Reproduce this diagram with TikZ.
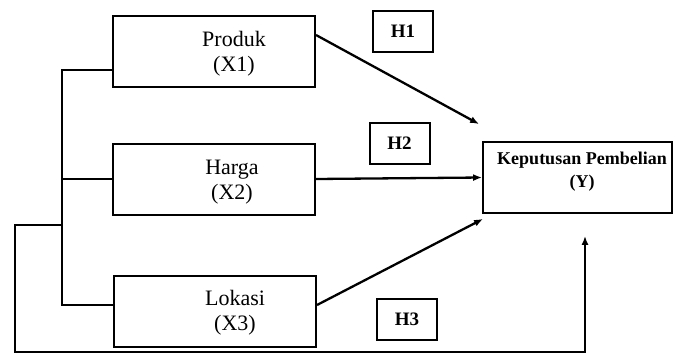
\documentclass[tikz,border=0pt]{standalone}
\usepackage{fontspec}
\setmainfont{Liberation Serif}
\usetikzlibrary{arrows.meta}

\tikzset{
  ln/.style={line width=2.3pt},
  arr/.style={ln,-{Latex[length=9pt,width=7pt]}},
  varbox/.style={draw,line width=2pt,minimum width=202pt,minimum height=71pt,inner sep=0pt},
  vartxt/.style={align=center,font=\fontsize{22}{25}\selectfont},
  hbox/.style={draw,line width=2pt,minimum width=60pt,minimum height=41pt,font=\fontsize{19}{22}\selectfont\bfseries}
}

\begin{document}
\begin{tikzpicture}[x=1pt,y=-1pt]
\useasboundingbox (0,0) rectangle (675,356);

% variabel bebas
\node[varbox] (x1) at (214,51) {};
\node[vartxt] (x1t) at (234,54) {Produk\\(X1)};
\node[varbox] (x2) at (214,179) {};
\node[vartxt] (x2t) at (232,182) {Harga\\(X2)};
\node[varbox] (x3) at (215,311.5) {};
\node[vartxt] (x3t) at (235,313) {Lokasi\\(X3)};

% variabel terikat
\node[draw,line width=1.8pt,minimum width=189pt,minimum height=71pt] (y) at (577.5,177.5) {};
\node[align=center,font=\fontsize{18}{23}\selectfont\bfseries] (yt) at (582,172) {Keputusan Pembelian\\(Y)};

% hipotesis
\node[hbox] (h1) at (403,31.5) {H1};
\node[hbox] (h2) at (399.5,143.5) {H2};
\node[hbox] (h3) at (407,319) {H3};

% garis kiri
\coordinate (kb) at (62,305);
\coordinate (fb) at (62,225);
\coordinate (fl) at (15,352);
\draw[ln] ([yshift=-19pt]x1.west) -| (kb) -- ([yshift=6.5pt]x3.west);
\draw[ln] (x2.west) -- (x2.west -| kb);

% panah
\draw[arr] ([yshift=16pt]x1.east) -- ([shift={(-3pt,17pt)}]y.north west);
\draw[arr] (x2.east) -- (y.west);
\draw[arr] ([yshift=6.5pt]x3.east) -- ([shift={(1pt,-5pt)}]y.south west);
\draw[arr] (fb) -| (fl) -| ([shift={(7.5pt,-22pt)}]y.south);

\end{tikzpicture}
\end{document}
